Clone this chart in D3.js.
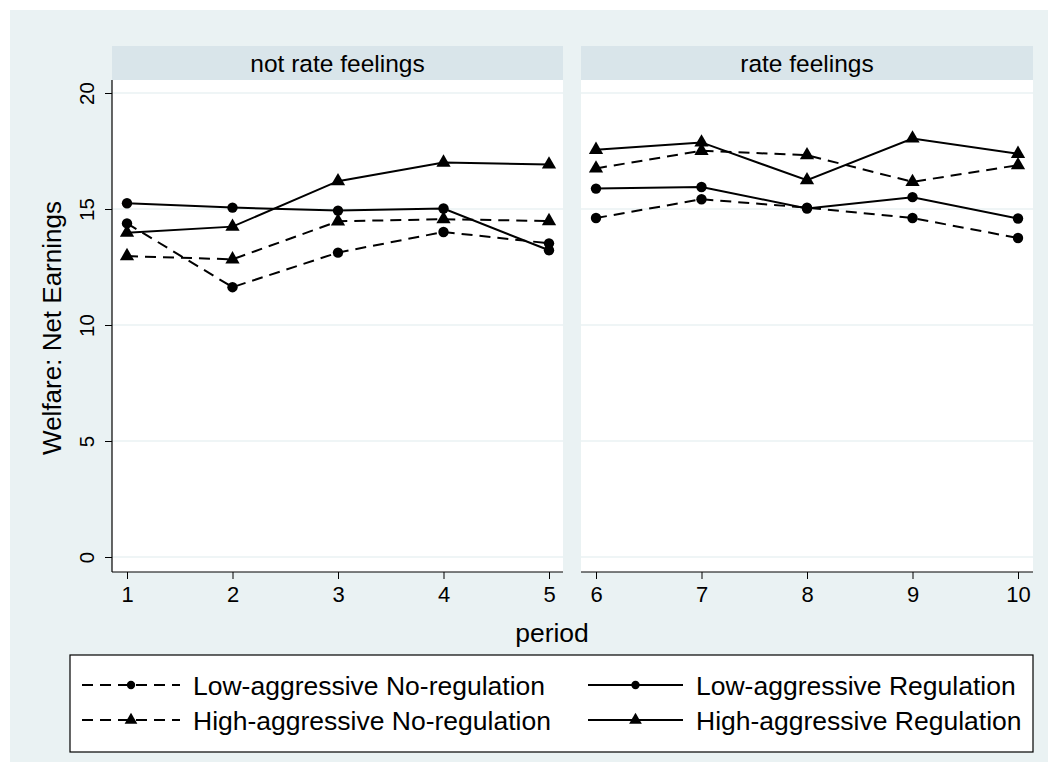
<!DOCTYPE html>
<html>
<head>
<meta charset="utf-8">
<script src="https://cdn.jsdelivr.net/npm/d3@7"></script>
<style>
  body { margin: 0; background: #ffffff; }
  svg text { font-family: "Liberation Sans", Arial, Helvetica, sans-serif; fill: #000; }
</style>
</head>
<body>
<svg id="chart" width="1058" height="772"></svg>
<script>
// Data
const periods = [1, 2, 3, 4, 5, 6, 7, 8, 9, 10];
const panelTitles = ["not rate feelings", "rate feelings"];
const panelPeriods = [[1, 2, 3, 4, 5], [6, 7, 8, 9, 10]];
const yTicks = [0, 5, 10, 15, 20];

const lowNoReg  = [14.38, 11.63, 13.12, 14.01, 13.52, 14.61, 15.42, 15.06, 14.61, 13.75];
const lowReg    = [15.25, 15.06, 14.93, 15.02, 13.22, 15.88, 15.95, 15.02, 15.51, 14.59];
const highNoReg = [12.97, 12.83, 14.47, 14.56, 14.48, 16.75, 17.51, 17.32, 16.17, 16.89];
const highReg   = [13.98, 14.24, 16.20, 17.00, 16.92, 17.55, 17.87, 16.24, 18.04, 17.38];

const seriesNames = [
  "Low-aggressive No-regulation",
  "Low-aggressive Regulation",
  "High-aggressive No-regulation",
  "High-aggressive Regulation"
];

const series = [
  { name: seriesNames[0], values: lowNoReg, dashed: true, symbol: d3.symbolCircle },
  { name: seriesNames[1], values: lowReg, dashed: false, symbol: d3.symbolCircle },
  { name: seriesNames[2], values: highNoReg, dashed: true, symbol: d3.symbolTriangle },
  { name: seriesNames[3], values: highReg, dashed: false, symbol: d3.symbolTriangle }
];

const svg = d3.select("#chart");

// background (graph region)
svg.append("rect")
  .attr("x", 10).attr("y", 10)
  .attr("width", 1038).attr("height", 752)
  .attr("fill", "#eaf2f3");

// layout
const plotTop = 80, plotBottom = 572;
const stripTop = 46;
const panelBoxes = [
  { left: 112, right: 563, range: [127, 549] },
  { left: 581, right: 1033, range: [596, 1018] }
];

const yScale = d3.scaleLinear().domain([0, 20]).range([557, 93]);

panelBoxes.forEach((box, pi) => {
  const xScale = d3.scaleLinear()
    .domain(d3.extent(panelPeriods[pi]))
    .range(box.range);

  const g = svg.append("g");

  // strip
  g.append("rect")
    .attr("x", box.left).attr("y", stripTop)
    .attr("width", box.right - box.left).attr("height", plotTop - stripTop)
    .attr("fill", "#d9e5ea");
  g.append("text")
    .attr("x", (box.left + box.right) / 2)
    .attr("y", 63)
    .attr("dy", "0.35em")
    .attr("text-anchor", "middle")
    .style("font-size", "24.5px")
    .text(panelTitles[pi]);

  // plot region
  g.append("rect")
    .attr("x", box.left).attr("y", plotTop)
    .attr("width", box.right - box.left).attr("height", plotBottom - plotTop)
    .attr("fill", "#ffffff");

  // grid lines
  g.selectAll("line.grid")
    .data(yTicks)
    .enter()
    .append("line")
    .attr("class", "grid")
    .attr("x1", box.left).attr("x2", box.right)
    .attr("y1", d => yScale(d)).attr("y2", d => yScale(d))
    .attr("stroke", "#eaf2f3")
    .attr("stroke-width", 1.5);

  // x axis
  const xAxis = g.append("g")
    .attr("transform", `translate(0,${plotBottom})`)
    .call(d3.axisBottom(xScale).tickValues(panelPeriods[pi]).tickFormat(d3.format("d")).tickSize(7).tickSizeOuter(0).tickPadding(5));
  xAxis.select(".domain")
    .attr("d", `M${box.left},0H${box.right}`)
    .attr("stroke", "#000").attr("stroke-width", 1.2);
  xAxis.selectAll(".tick line").attr("stroke", "#000");
  xAxis.selectAll(".tick text")
    .attr("y", 22).attr("dy", "0.35em")
    .style("font-size", "22px")
    .style("font-family", "Liberation Sans, Arial, sans-serif");

  // y axis on the left panel only
  if (pi === 0) {
    const yAxis = g.append("g")
      .attr("transform", `translate(${box.left},0)`)
      .call(d3.axisLeft(yScale).tickValues(yTicks).tickSize(7).tickSizeOuter(0).tickPadding(8));
    yAxis.select(".domain")
      .attr("d", `M0,${plotTop}V${plotBottom}`)
      .attr("stroke", "#000").attr("stroke-width", 1.2);
    yAxis.selectAll(".tick line").attr("stroke", "#000");
    yAxis.selectAll(".tick text")
      .attr("x", 0)
      .attr("text-anchor", "middle")
      .attr("transform", "translate(-25,0) rotate(-90)")
      .attr("dy", "0.35em")
      .style("font-size", "20.5px")
      .style("font-family", "Liberation Sans, Arial, sans-serif");
  }

  // lines & markers
  const idx = panelPeriods[pi].map(p => periods.indexOf(p));
  series.forEach(s => {
    const pts = idx.map(i => ({ p: periods[i], v: s.values[i] }));
    const line = d3.line().x(d => xScale(d.p)).y(d => yScale(d.v));
    g.append("path")
      .datum(pts)
      .attr("d", line)
      .attr("fill", "none")
      .attr("stroke", "#000")
      .attr("stroke-width", 2)
      .attr("stroke-dasharray", s.dashed ? "11,7" : null);

    g.selectAll(null)
      .data(pts)
      .enter()
      .append("path")
      .attr("d", d3.symbol().type(s.symbol).size(s.symbol === d3.symbolCircle ? 85 : 88))
      .attr("transform", d => `translate(${xScale(d.p)},${yScale(d.v)})`)
      .attr("fill", "#000");
  });
});

// axis titles
svg.append("text")
  .attr("transform", "translate(52,328) rotate(-90)")
  .attr("text-anchor", "middle")
  .attr("dy", "0.35em")
  .style("font-size", "26px")
  .text("Welfare: Net Earnings");

svg.append("text")
  .attr("x", 552).attr("y", 633)
  .attr("dy", "0.35em")
  .attr("text-anchor", "middle")
  .style("font-size", "26.5px")
  .text("period");

// legend
const legend = svg.append("g");
legend.append("rect")
  .attr("x", 70).attr("y", 655)
  .attr("width", 963).attr("height", 97)
  .attr("fill", "#ffffff")
  .attr("stroke", "#000")
  .attr("stroke-width", 1.2);

const legendPos = [
  { x1: 82, x2: 180, tx: 193, y: 685 },
  { x1: 588, x2: 683, tx: 696, y: 685 },
  { x1: 82, x2: 180, tx: 193, y: 720 },
  { x1: 588, x2: 683, tx: 696, y: 720 }
];

series.forEach((s, i) => {
  const lp = legendPos[i];
  legend.append("line")
    .attr("x1", lp.x1).attr("x2", lp.x2)
    .attr("y1", lp.y).attr("y2", lp.y)
    .attr("stroke", "#000")
    .attr("stroke-width", 2)
    .attr("stroke-dasharray", s.dashed ? "11,7" : null);
  legend.append("path")
    .attr("d", d3.symbol().type(s.symbol).size(s.symbol === d3.symbolCircle ? 55 : 70))
    .attr("transform", `translate(${(lp.x1 + lp.x2) / 2},${lp.y})`)
    .attr("fill", "#000");
  legend.append("text")
    .attr("x", lp.tx).attr("y", lp.y)
    .attr("dy", "0.36em")
    .style("font-size", "26.5px")
    .text(s.name);
});
</script>
</body>
</html>
